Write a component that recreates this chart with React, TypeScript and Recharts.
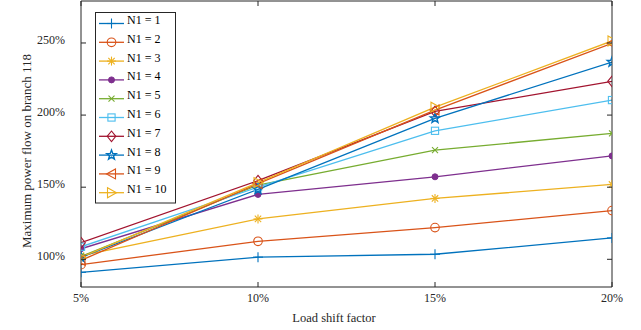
import React from "react";
import { LineChart, Line, XAxis, YAxis, Legend, ReferenceLine } from "recharts";

// load shift factor (%) on the x axis
const shiftFactors = [5, 10, 15, 20];

// maximum power flow on branch 118 (%) for each N1 setting
const n1_1 = [91, 101.5, 103.5, 114.8];
const n1_2 = [96.3, 112.5, 122, 133.8];
const n1_3 = [102.5, 128, 142.2, 151.9];
const n1_4 = [107.3, 145, 157.2, 171.7];
const n1_5 = [102, 151.5, 175.7, 187.3];
const n1_6 = [108.7, 150, 189.1, 210.4];
const n1_7 = [111.5, 154.5, 202.5, 223.4];
const n1_8 = [101.4, 148.5, 197.7, 236.8];
const n1_9 = [99.3, 152.5, 203.5, 249.8];
const n1_10 = [101.4, 153.2, 205.5, 251.4];

const seriesNames = ["N1 = 1", "N1 = 2", "N1 = 3", "N1 = 4", "N1 = 5", "N1 = 6", "N1 = 7", "N1 = 8", "N1 = 9", "N1 = 10"];
const seriesValues = [n1_1, n1_2, n1_3, n1_4, n1_5, n1_6, n1_7, n1_8, n1_9, n1_10];

const xTicks = [5, 10, 15, 20];
const yTicks = [100, 150, 200, 250];
const yDomain = [80.8, 279.1];

// matlab default color order and marker list
const COLORS = ["#0072BD", "#D95319", "#EDB120", "#7E2F8E", "#77AC30", "#4DBEEE", "#A2142F", "#0072BD", "#D95319", "#EDB120"];
const MARKERS = ["plus", "circle", "asterisk", "dot", "cross", "square", "diamond", "star", "left", "right"];

const AXIS = "#262626";
const FONT = "'Liberation Serif', 'Times New Roman', serif";
const PLOT_H = 286;

const rows = shiftFactors.map((s, i) => {
  const row: Record<string, number> = { shift: s };
  seriesNames.forEach((name, k) => {
    row[name] = seriesValues[k][i];
  });
  return row;
});

function Marker({ cx, cy, shape, color }: { cx: number; cy: number; shape: string; color: string }) {
  const sw = 1.1;
  switch (shape) {
    case "plus":
      return (
        <g stroke={color} strokeWidth={sw}>
          <line x1={cx - 5} y1={cy} x2={cx + 5} y2={cy} />
          <line x1={cx} y1={cy - 5} x2={cx} y2={cy + 5} />
        </g>
      );
    case "circle":
      return <circle cx={cx} cy={cy} r={4.3} fill="none" stroke={color} strokeWidth={sw} />;
    case "asterisk":
      return (
        <g stroke={color} strokeWidth={sw}>
          <line x1={cx - 4.5} y1={cy} x2={cx + 4.5} y2={cy} />
          <line x1={cx} y1={cy - 4.5} x2={cx} y2={cy + 4.5} />
          <line x1={cx - 3.2} y1={cy - 3.2} x2={cx + 3.2} y2={cy + 3.2} />
          <line x1={cx - 3.2} y1={cy + 3.2} x2={cx + 3.2} y2={cy - 3.2} />
        </g>
      );
    case "dot":
      return <circle cx={cx} cy={cy} r={3} fill={color} stroke={color} />;
    case "cross":
      return (
        <g stroke={color} strokeWidth={sw}>
          <line x1={cx - 3} y1={cy - 3} x2={cx + 3} y2={cy + 3} />
          <line x1={cx - 3} y1={cy + 3} x2={cx + 3} y2={cy - 3} />
        </g>
      );
    case "square":
      return <rect x={cx - 3.6} y={cy - 3.6} width={7.2} height={7.2} fill="none" stroke={color} strokeWidth={sw} />;
    case "diamond":
      return (
        <polygon
          points={`${cx},${cy - 5.3} ${cx + 4.3},${cy} ${cx},${cy + 5.3} ${cx - 4.3},${cy}`}
          fill="none"
          stroke={color}
          strokeWidth={sw}
        />
      );
    case "star": {
      const pts: string[] = [];
      for (let i = 0; i < 10; i++) {
        const r = i % 2 === 0 ? 5 : 2.1;
        const a = -Math.PI / 2 + (i * Math.PI) / 5;
        pts.push(`${cx + r * Math.cos(a)},${cy + r * Math.sin(a)}`);
      }
      return <polygon points={pts.join(" ")} fill="none" stroke={color} strokeWidth={1.4} />;
    }
    case "left":
      return (
        <polygon
          points={`${cx - 5},${cy} ${cx + 4},${cy - 5} ${cx + 4},${cy + 5}`}
          fill="none"
          stroke={color}
          strokeWidth={sw}
        />
      );
    case "right":
      return (
        <polygon
          points={`${cx + 5},${cy} ${cx - 4},${cy - 5} ${cx - 4},${cy + 5}`}
          fill="none"
          stroke={color}
          strokeWidth={sw}
        />
      );
    default:
      return null;
  }
}

const textStyle = { fontFamily: FONT, fontSize: 12 };

// ticks point into the plot box (bottom and mirrored on top), labels sit outside
const BottomTick = (props: any) => {
  const { x, y, payload } = props;
  const top = y - PLOT_H;
  return (
    <g>
      <line x1={x} y1={y} x2={x} y2={y - 5} stroke={AXIS} />
      <line x1={x} y1={top} x2={x} y2={top + 5} stroke={AXIS} />
      <text x={x} y={y + 15} textAnchor="middle" style={textStyle} fill={AXIS}>
        {payload.value}%
      </text>
    </g>
  );
};

const LeftTick = (props: any) => {
  const { x, y, payload } = props;
  return (
    <g>
      <line x1={x} y1={y} x2={x + 5} y2={y} stroke={AXIS} />
      <text x={x - 16} y={y + 1} textAnchor="end" style={textStyle} fill={AXIS}>
        {payload.value}%
      </text>
    </g>
  );
};

const RightTick = (props: any) => {
  const { x, y } = props;
  return <line x1={x} y1={y} x2={x - 5} y2={y} stroke={AXIS} />;
};

const YTitle = () => (
  <text
    x={31}
    y={151}
    transform="rotate(-90, 31, 151)"
    textAnchor="middle"
    style={{ fontFamily: FONT, fontSize: 13 }}
    fill={AXIS}
  >
    Maximum power flow on branch 118
  </text>
);

const XTitle = () => (
  <text x={334} y={322} textAnchor="middle" style={{ fontFamily: FONT, fontSize: 12.5 }} fill={AXIS}>
    Load shift factor
  </text>
);

const LegendBox = () => (
  <svg width={82} height={192} style={{ display: "block" }}>
    <rect x={0.5} y={0.5} width={80} height={190.5} fill="#fff" stroke={AXIS} />
    {seriesNames.map((name, i) => {
      const y = 11.5 + i * 18.8;
      return (
        <g key={name}>
          <line x1={4} y1={y} x2={29} y2={y} stroke={COLORS[i]} strokeWidth={1.3} />
          <Marker cx={16.5} cy={y} shape={MARKERS[i]} color={COLORS[i]} />
          <text x={32} y={y + 0.5} style={textStyle} fill="#000">
            {name}
          </text>
        </g>
      );
    })}
  </svg>
);

export default function App() {
  return (
    <div style={{ position: "absolute", left: 0, top: 0, background: "#fff" }}>
      <LineChart width={641} height={330} data={rows} margin={{ top: 1, right: 0, bottom: 0, left: 0 }}>
        <XAxis
          dataKey="shift"
          type="number"
          domain={[5, 20]}
          ticks={xTicks}
          allowDataOverflow
          height={43}
          tickLine={false}
          tickSize={0}
          tickMargin={0}
          tick={<BottomTick />}
          axisLine={{ stroke: AXIS }}
          label={<XTitle />}
        />
        <YAxis
          type="number"
          domain={yDomain}
          ticks={yTicks}
          allowDataOverflow
          width={81}
          tickLine={false}
          tickSize={0}
          tickMargin={0}
          tick={<LeftTick />}
          axisLine={{ stroke: AXIS }}
          label={<YTitle />}
        />
        <YAxis
          yAxisId="right"
          orientation="right"
          type="number"
          domain={yDomain}
          ticks={yTicks}
          allowDataOverflow
          width={29}
          tickLine={false}
          tickSize={0}
          tickMargin={0}
          tick={<RightTick />}
          axisLine={{ stroke: AXIS }}
        />
        {/* top edge of the plot box */}
        <ReferenceLine y={yDomain[1]} stroke={AXIS} ifOverflow="extendDomain" />
        <Legend
          layout="vertical"
          align="center"
          verticalAlign="middle"
          content={() => <LegendBox />}
          wrapperStyle={{ left: 95, top: 12, width: 82, height: 192 }}
        />
        {seriesNames.map((name, i) => (
          <Line
            key={name}
            dataKey={name}
            stroke={COLORS[i]}
            strokeWidth={1.3}
            isAnimationActive={false}
            dot={(p: any) => <Marker key={`${name}-${p.index}`} cx={p.cx} cy={p.cy} shape={MARKERS[i]} color={COLORS[i]} />}
            activeDot={false}
          />
        ))}
      </LineChart>
    </div>
  );
}
